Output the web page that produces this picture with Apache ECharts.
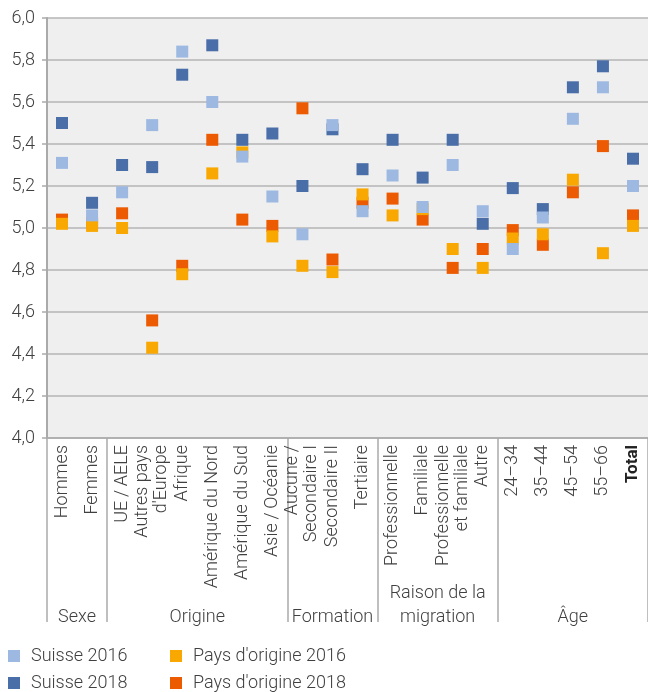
<!DOCTYPE html>
<html><head><meta charset="utf-8">
<script src="https://cdn.jsdelivr.net/npm/echarts@6/dist/echarts.min.js"></script>
<style>html,body{margin:0;padding:0;background:#fff}#c{width:648px;height:692px}</style>
</head><body><div id="c"></div>
<script>
const categories = ['Hommes','Femmes','UE\u2009/\u2009AELE','Autres pays\nd\'Europe','Afrique','Amérique du Nord','Amérique du Sud','Asie\u2009/\u2009Océanie','Aucune\u2009/\nSecondaire I','Secondaire II','Tertiaire','Professionnelle','Familiale','Professionnelle\net familiale','Autre','24–34','35–44','45–54','55–66','Total'];
const suisse2016 = [5.31, 5.06, 5.17, 5.49, 5.84, 5.60, 5.34, 5.15, 4.97, 5.49, 5.08, 5.25, 5.10, 5.30, 5.08, 4.90, 5.05, 5.52, 5.67, 5.20];
const suisse2018 = [5.50, 5.12, 5.30, 5.29, 5.73, 5.87, 5.42, 5.45, 5.20, 5.47, 5.28, 5.42, 5.24, 5.42, 5.02, 5.19, 5.09, 5.67, 5.77, 5.33];
const pays2016   = [5.02, 5.01, 5.00, 4.43, 4.78, 5.26, 5.36, 4.96, 4.82, 4.79, 5.16, 5.06, 5.09, 4.90, 4.81, 4.95, 4.97, 5.23, 4.88, 5.01];
const pays2018   = [5.04, 5.025, 5.07, 4.56, 4.82, 5.42, 5.04, 5.01, 5.57, 4.85, 5.12, 5.14, 5.04, 4.81, 4.90, 4.99, 4.92, 5.17, 5.39, 5.06];
const groupNames = ['Sexe','Origine','Formation','Raison de la\nmigration','Âge'];
const groupStarts = [0, 2, 8, 11, 15];
const groupEnds = [1, 7, 10, 14, 19];
const yTicks = {min: 4, max: 6, step: 0.2};
const legendNames = ['Suisse 2016', "Pays d'origine 2016", 'Suisse 2018', "Pays d'origine 2018"];

const FONT = 'Roboto';
const FS = 18;
const TXT = '#404040';
const chart = echarts.init(document.getElementById('c'));
function sc(name, data, color) {
  return {name, type: 'scatter', data, symbol: 'rect', symbolSize: 12,
    itemStyle: {color, opacity: 1}, emphasis: {disabled: true}, animation: false};
}
const legendLeft = [8, 170, 8, 170];
const legendTop = [647, 647, 674, 674];
const legends = legendNames.map((n, i) => ({
  left: legendLeft[i], top: legendTop[i], padding: 0, itemWidth: 12, itemHeight: 12,
  icon: 'rect', selectedMode: false, data: [n],
  textStyle: {fontFamily: FONT, fontWeight: 300, fontSize: FS, color: TXT, lineHeight: 12, padding: [0,0,0,6]}
}));
chart.setOption({
  animation: false,
  grid: {left: 47, right: 0, top: 18, bottom: 254, show: true, backgroundColor: '#efefef', borderWidth: 0},
  xAxis: {type: 'category', data: categories, boundaryGap: true,
    axisLine: {lineStyle: {color: '#aaaaaa', width: 1.5}},
    axisTick: {show: true, length: 184, lineStyle: {color: '#aaaaaa', width: 1.5},
      interval: (i) => groupStarts.includes(i)},
    axisLabel: {rotate: 90, interval: 0, margin: 7, fontFamily: FONT, fontWeight: 300, fontSize: FS, lineHeight: 19, color: TXT,
      formatter: (v) => v === 'Total' ? '{b|Total}' : v,
      rich: {b: {fontWeight: 'bold', fontFamily: FONT, fontSize: FS - 1, color: '#222'}}},
    splitLine: {show: false}},
  yAxis: {type: 'value', min: yTicks.min, max: yTicks.max, interval: yTicks.step,
    axisLine: {show: true, lineStyle: {color: '#aaaaaa', width: 2}},
    axisTick: {show: true, length: 5, lineStyle: {color: '#aaaaaa', width: 1.5}},
    axisLabel: {margin: 12, fontFamily: FONT, fontWeight: 300, fontSize: FS, color: TXT,
      formatter: (v) => v.toFixed(1).replace('.', ',')},
    splitLine: {lineStyle: {color: '#b4b4b4', width: 1.5}}},
  legend: legends,
  series: [
    sc("Pays d'origine 2018", pays2018, '#ec5b02'),
    sc('Suisse 2018', suisse2018, '#4a6ea7'),
    sc("Pays d'origine 2016", pays2016, '#f8a800'),
    sc('Suisse 2016', suisse2016, '#9db9e1')
  ]
});
const graphics = groupNames.map((name, k) => {
  const x0 = chart.convertToPixel({xAxisIndex: 0}, groupStarts[k]);
  const x1 = chart.convertToPixel({xAxisIndex: 0}, groupEnds[k]);
  return {type: 'text', x: (x0 + x1) / 2, y: 629, silent: true,
    style: {text: name, align: 'center', verticalAlign: 'bottom', lineHeight: 24,
      font: '300 ' + FS + 'px ' + FONT, fill: TXT}};
});
chart.setOption({graphic: graphics});
</script></body></html>
